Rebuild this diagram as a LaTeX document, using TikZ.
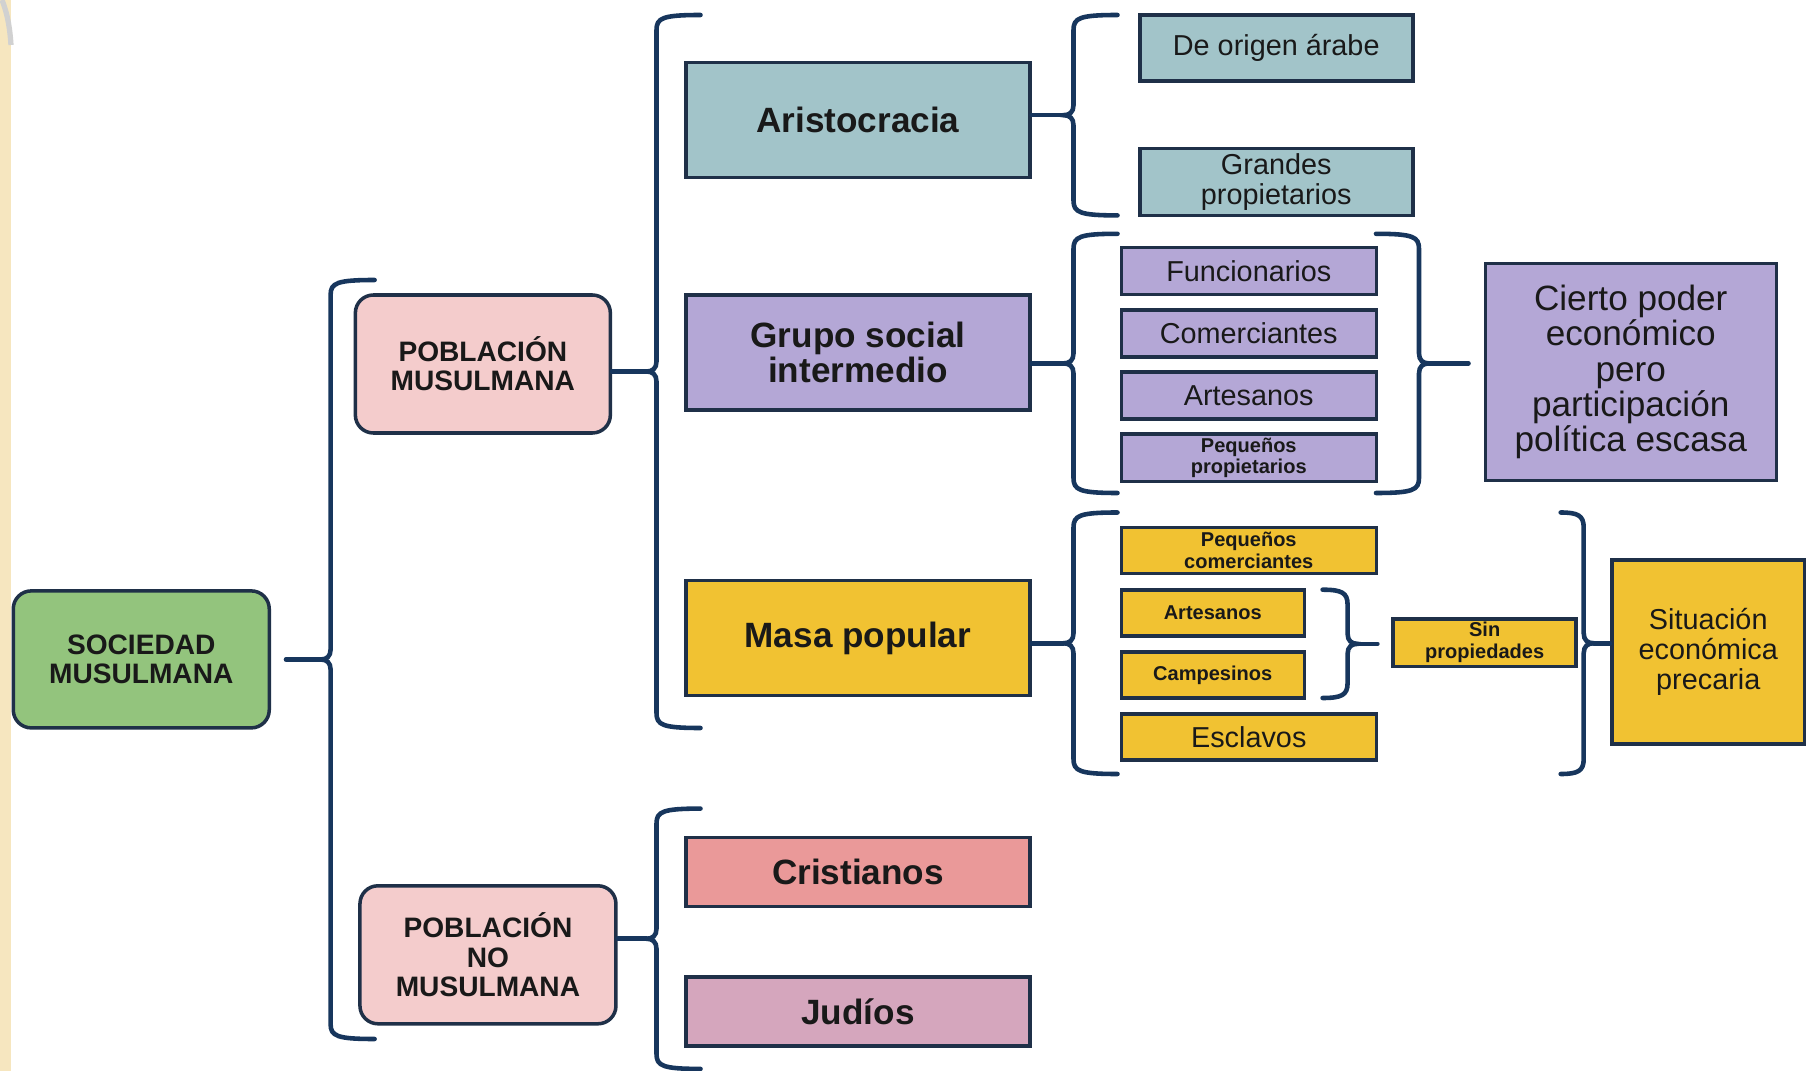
\documentclass[tikz,border=0pt]{standalone}
\usepackage{fontspec}
\setmainfont{Liberation Sans}
\usetikzlibrary{positioning}

\definecolor{edge}{HTML}{1F3048}
\definecolor{brace}{HTML}{17365D}
\definecolor{verde}{HTML}{93C47D}
\definecolor{rosa}{HTML}{F4CCCC}
\definecolor{azul}{HTML}{A2C4C9}
\definecolor{lila}{HTML}{B4A7D6}
\definecolor{oro}{HTML}{F1C232}
\definecolor{salmon}{HTML}{EA9999}
\definecolor{malva}{HTML}{D5A6BD}
\definecolor{tira}{HTML}{F6E6BF}

\newcommand{\bigf}{\fontsize{10}{9.8}\selectfont\bfseries}
\newcommand{\capf}{\fontsize{8}{8.3}\selectfont\bfseries}
\newcommand{\regf}{\fontsize{8.2}{8.5}\selectfont}
\newcommand{\tinyf}{\fontsize{5.7}{6.2}\selectfont\bfseries}

% left brace: x, top, bottom, curl length, tip name
\newcommand{\drawlbr}[5]{%
  \draw[brc] ({#1+#4},-#2) .. controls ({#1+0.06},-#2) and (#1,{-#2-0.03}) .. (#1,{-#2-0.15})
    -- (#1,{-(#2+#3)/2+0.1}) .. controls (#1,{-(#2+#3)/2+0.03}) and ({#1-0.04},{-(#2+#3)/2}) .. ({#1-0.1},{-(#2+#3)/2})
    .. controls ({#1-0.04},{-(#2+#3)/2}) and (#1,{-(#2+#3)/2-0.03}) .. (#1,{-(#2+#3)/2-0.1})
    -- (#1,{-#3+0.15}) .. controls (#1,{-#3+0.03}) and ({#1+0.06},-#3) .. ({#1+#4},-#3);
  \coordinate (#5) at ({#1-0.1},{-(#2+#3)/2});}
% right brace
\newcommand{\drawrbr}[5]{%
  \draw[brc] ({#1-#4},-#2) .. controls ({#1-0.06},-#2) and (#1,{-#2-0.03}) .. (#1,{-#2-0.15})
    -- (#1,{-(#2+#3)/2+0.1}) .. controls (#1,{-(#2+#3)/2+0.03}) and ({#1+0.04},{-(#2+#3)/2}) .. ({#1+0.1},{-(#2+#3)/2})
    .. controls ({#1+0.04},{-(#2+#3)/2}) and (#1,{-(#2+#3)/2-0.03}) .. (#1,{-(#2+#3)/2-0.1})
    -- (#1,{-#3+0.15}) .. controls (#1,{-#3+0.03}) and ({#1-0.06},-#3) .. ({#1-#4},-#3);
  \coordinate (#5) at ({#1+0.1},{-(#2+#3)/2});}

\begin{document}
\begin{tikzpicture}[
	text=black!90
]
\tikzset{
    box/.style = {rectangle, draw=edge, line width=1pt, align=center, anchor=west, inner sep=1pt},
    rbox/.style = {box, rounded corners=0.18cm},
    brc/.style = {draw=brace, line width=1.3pt, line cap=round}
}
\useasboundingbox (0,0) rectangle (18.06,-10.71);
\fill[white] (0,0) rectangle (18.06,-10.71);
\fill[tira] (0,0) rectangle (0.11,-10.71);
\draw[black!18, line width=1.5pt] (0.02,0) .. controls (0.08,-0.15) and (0.1,-0.3) .. (0.11,-0.45);

% level 1 and 2
\node[rbox,fill=verde,font=\capf,minimum width=2.56cm,minimum height=1.37cm] (soc) at (0.115,-6.594) {SOCIEDAD\\MUSULMANA};
\node[rbox,fill=rosa,font=\capf,minimum width=2.55cm,minimum height=1.38cm] (mus) at (3.536,-3.64) {POBLACIÓN\\MUSULMANA};
\node[rbox,fill=rosa,font=\capf,minimum width=2.56cm,minimum height=1.38cm] (nomus) at (3.582,-9.548) {POBLACIÓN\\NO\\MUSULMANA};

% groups
\node[box,fill=azul,font=\bigf,minimum width=3.44cm,minimum height=1.15cm] (aristo) at (6.842,-1.198) {Aristocracia};
\node[box,fill=lila,font=\bigf,minimum width=3.44cm,minimum height=1.15cm] (grupo) at (6.842,-3.524) {Grupo social\\intermedio};
\node[box,fill=oro,font=\bigf,minimum width=3.44cm,minimum height=1.15cm] (masa) at (6.842,-6.381) {Masa popular};
\node[box,fill=salmon,font=\bigf,minimum width=3.44cm,minimum height=0.69cm] (crist) at (6.842,-8.719) {Cristianos};
\node[box,fill=malva,font=\bigf,minimum width=3.44cm,minimum height=0.69cm] (jud) at (6.842,-10.113) {Judíos};

% aristocracia
\node[box,fill=azul,font=\regf,minimum width=2.73cm,minimum height=0.66cm] (arabe) at (11.38,-0.478) {De origen árabe};
\node[box,fill=azul,font=\regf,minimum width=2.73cm,minimum height=0.67cm] (grandes) at (11.38,-1.82) {Grandes\\propietarios};

% grupo social intermedio
\node[box,fill=lila,font=\regf,minimum width=2.55cm,minimum height=0.47cm] (func) at (11.195,-2.712) {Funcionarios};
\node[box,fill=lila,font=\regf,minimum width=2.55cm,minimum height=0.47cm] (comer) at (11.195,-3.335) {Comerciantes};
\node[box,fill=lila,font=\regf,minimum width=2.55cm,minimum height=0.47cm] (arte) at (11.195,-3.957) {Artesanos};
\node[box,fill=lila,font=\tinyf,minimum width=2.55cm,minimum height=0.47cm] (pprop) at (11.195,-4.579) {Pequeños\\propietarios};
\node[box,fill=lila,font=\fontsize{10}{10}\selectfont,minimum width=2.91cm,minimum height=2.17cm] (cierto) at (14.835,-3.72) {Cierto poder\\económico\\pero\\participación\\política escasa};

% masa popular
\node[box,fill=oro,font=\tinyf,minimum width=2.55cm,minimum height=0.46cm] (pcom) at (11.195,-5.506) {Pequeños\\comerciantes};
\node[box,fill=oro,font=\tinyf,minimum width=1.83cm,minimum height=0.46cm] (arte2) at (11.195,-6.128) {Artesanos};
\node[box,fill=oro,font=\tinyf,minimum width=1.83cm,minimum height=0.46cm] (camp) at (11.195,-6.75) {Campesinos};
\node[box,fill=oro,font=\regf,minimum width=2.55cm,minimum height=0.46cm] (escl) at (11.195,-7.372) {Esclavos};
\node[box,fill=oro,font=\tinyf,minimum width=1.83cm,minimum height=0.46cm] (sinp) at (13.914,-6.427) {Sin\\propiedades};
\node[box,fill=oro,font=\regf,minimum width=1.93cm,minimum height=1.84cm] (situ) at (16.10,-6.52) {Situación\\económica\\precaria};

% braces
\drawlbr{3.306}{2.80}{10.39}{0.44}{tSoc}
\drawlbr{6.565}{0.15}{7.28}{0.44}{tMus}
\drawlbr{6.565}{8.086}{10.689}{0.44}{tNo}
\drawlbr{10.735}{0.15}{2.154}{0.44}{tAri}
\drawlbr{10.735}{2.338}{4.93}{0.44}{tGru}
\drawlbr{10.735}{5.125}{7.74}{0.44}{tMas}
\drawrbr{14.19}{2.338}{4.93}{0.43}{tGruR}
\drawrbr{13.476}{5.897}{6.98}{0.25}{tSin}
\drawrbr{15.837}{5.125}{7.74}{0.23}{tMasR}

% stems
\draw[brc] ([xshift=0.15cm]soc.east |- tSoc) -- (tSoc);
\draw[brc] (mus.east |- tMus) -- (tMus);
\draw[brc] (nomus.east |- tNo) -- (tNo);
\draw[brc] (aristo.east |- tAri) -- (tAri);
\draw[brc] (grupo.east |- tGru) -- (tGru);
\draw[brc] (masa.east |- tMas) -- (tMas);
\draw[brc] (tGruR) -- ([xshift=-0.15cm]cierto.west |- tGruR);
\draw[brc] (tSin) -- ([xshift=-0.14cm]sinp.west |- tSin);
\draw[brc] (tMasR) -- (situ.west |- tMasR);
\end{tikzpicture}
\end{document}
